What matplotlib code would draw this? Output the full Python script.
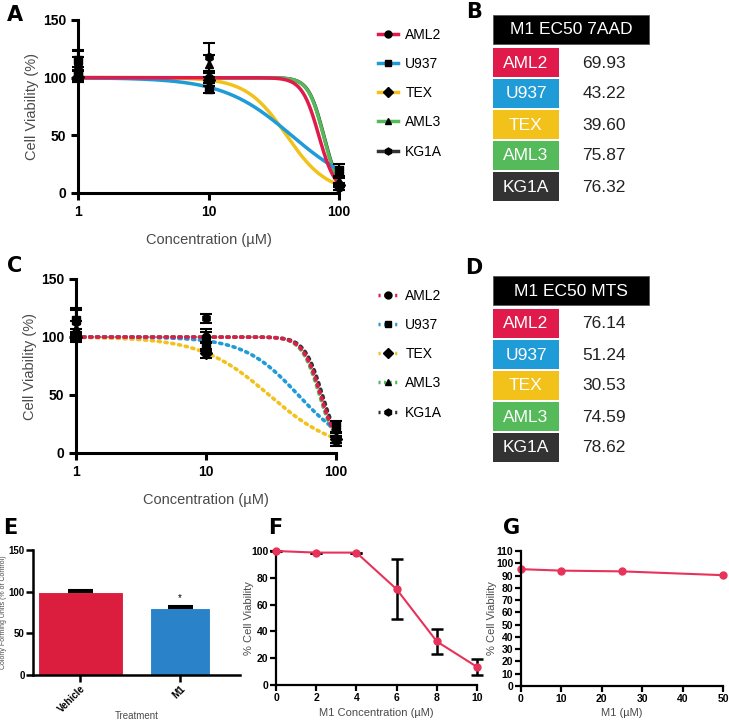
import numpy as np
import matplotlib
matplotlib.use("Agg")
import matplotlib.pyplot as plt
from matplotlib.lines import Line2D
from matplotlib.patches import Rectangle

plt.rcParams['font.family'] = ['Liberation Sans', 'DejaVu Sans']

# Cell lines and colours
lines = ['AML2', 'U937', 'TEX', 'AML3', 'KG1A']
colors = ['#E01B4C', '#1F9BD7', '#F2C21B', '#55BA5A', '#333333']
markers = ['o', 's', 'D', '^', 'h']

conc = [1, 10, 100]

# Panel A (7AAD) measured points
a_mean = {'AML2': [104, 100, 5], 'U937': [115, 90, 20], 'TEX': [101, 98, 7],
          'AML3': [108, 112, 10], 'KG1A': [110, 118, 5]}
a_err = {'AML2': [5, 5, 2], 'U937': [8, 3, 5], 'TEX': [5, 3, 2],
         'AML3': [10, 8, 3], 'KG1A': [14, 12, 2]}
a_ec50 = [69.93, 43.22, 39.60, 75.87, 76.32]
a_hill = [6.8, 1.65, 2.8, 7.5, 7.5]

# Panel C (MTS) measured points
c_mean = {'AML2': [100, 100, 12], 'U937': [115, 92, 23], 'TEX': [100, 86, 12],
          'AML3': [108, 101, 13], 'KG1A': [113, 116, 10]}
c_err = {'AML2': [3, 4, 3], 'U937': [8, 4, 5], 'TEX': [4, 4, 3],
         'AML3': [6, 6, 4], 'KG1A': [12, 4, 4]}
c_ec50 = [76.14, 51.24, 30.53, 74.59, 78.62]
c_hill = [6.3, 2.07, 1.65, 6.3, 6.3]

# Panel E
e_cats = ['Vehicle', 'M1']
e_vals = [100, 81]
e_errs = [2, 2]
e_colors = ['#DC1E3E', '#2A82C8']

# Panel F
f_x = [0, 2, 4, 6, 8, 10]
f_y = [100, 98.8, 98.8, 71.5, 32.5, 13.5]
f_err = [0, 0, 0, 22.5, 9, 6]

# Panel G
g_x = [0, 10, 25, 50]
g_y = [95.2, 94, 93.4, 90.3]

W, H = 729, 723
fig = plt.figure(figsize=(W / 100, H / 100), dpi=100)
GREY = '#4a4a4a'


def box(l, t, r, b):
    return [l / W, 1 - b / H, (r - l) / W, (b - t) / H]


def style(ax, lw=2.2, size=9, pad=3.5, length=5):
    for s in ['top', 'right']:
        ax.spines[s].set_visible(False)
    for s in ['left', 'bottom']:
        ax.spines[s].set_linewidth(lw)
    ax.tick_params(width=lw, length=length, labelsize=size, pad=pad)
    for t in ax.get_xticklabels() + ax.get_yticklabels():
        t.set_fontweight('bold')


def dose_panel(ax, mean, err, ec50, hill, ls):
    xs = np.logspace(0, 2, 400)
    dots = (0, (0.6, 1.3))
    for i in [4, 3, 2, 1, 0]:
        y = 100 / (1 + (xs / ec50[i]) ** hill[i])
        if ls == 'solid':
            ax.plot(xs, y, color=colors[i], lw=2.5, zorder=2)
        else:
            ax.plot(xs, y, color=colors[i], lw=2.6, linestyle=dots,
                    dash_capstyle='round', zorder=2)
    for i, name in enumerate(lines):
        ax.errorbar(conc, mean[name], yerr=err[name], fmt=markers[i], color='black',
                    ms=6, elinewidth=1.5, capsize=4, capthick=1.5, zorder=3)
    ax.set_xscale('log')
    ax.set_xlim(1, 100)
    ax.set_ylim(0, 150)
    ax.set_xticks([1, 10, 100])
    ax.set_xticklabels(['1', '10', '100'])
    ax.minorticks_off()
    ax.set_yticks([0, 50, 100, 150])
    ax.set_xlabel('Concentration (µM)', fontsize=10.5, color=GREY, labelpad=10)
    ax.set_ylabel('Cell Viability (%)', fontsize=10.5, color=GREY, labelpad=3)
    for art in ax.get_children():
        art.set_clip_on(False)
    style(ax, size=10)
    handles = []
    for i in range(len(lines)):
        h = Line2D([], [], color=colors[i], lw=2.5,
                   linestyle='-' if ls == 'solid' else (0, (0.6, 1.0)),
                   marker=markers[i], mfc='black', mec='black', ms=5)
        handles.append(h)
    return handles


# Panel A
axA = fig.add_axes(box(78, 20, 339, 193))
hA = dose_panel(axA, a_mean, a_err, a_ec50, a_hill, 'solid')
fig.legend(hA, lines, loc='upper left', bbox_to_anchor=(365 / W, 1 - 15 / H),
           frameon=False, fontsize=10, handlelength=1.5, labelspacing=1.1,
           handletextpad=0.5)

# Panel C
axC = fig.add_axes(box(76, 279, 336, 453))
hC = dose_panel(axC, c_mean, c_err, c_ec50, c_hill, 'dotted')
fig.legend(hC, lines, loc='upper left', bbox_to_anchor=(365 / W, 1 - 276 / H),
           frameon=False, fontsize=10, handlelength=1.5, labelspacing=1.1,
           handletextpad=0.5)

# Panel E
axE = fig.add_axes(box(33, 550, 240, 675))
xe = np.arange(len(e_cats))
axE.bar(xe, e_vals, width=[0.85, 0.6], color=e_colors, edgecolor='white', lw=0.8,
        zorder=2)
axE.errorbar(xe, e_vals, yerr=[[0, 0], e_errs], fmt='none', ecolor='black',
             elinewidth=1.5, capsize=9, capthick=1.5, zorder=3)
axE.text(xe[1], e_vals[1] + e_errs[1] + 3, '*', ha='center', va='bottom', fontsize=7)
axE.set_xlim(-0.47, 1.6)
axE.set_ylim(0, 150)
axE.set_yticks([0, 50, 100, 150])
axE.set_xticks(xe)
axE.set_xticklabels(e_cats, rotation=45, ha='right', rotation_mode='anchor')
axE.set_xlabel('Treatment', fontsize=7, color=GREY)
axE.xaxis.set_label_coords(0.5, -36 / 125)
axE.set_ylabel('Colony Forming Units (% of Control)', fontsize=5, color=GREY)
axE.yaxis.set_label_coords(-26 / 207, 0.5)
style(axE, lw=1.8, size=7, pad=1)

# Panel F
axF = fig.add_axes(box(276, 551, 477, 685))
axF.errorbar(f_x, f_y, yerr=f_err, color='#E8325A', lw=1.5, marker='o', ms=5,
             ecolor='black', elinewidth=1.8, capsize=4, capthick=1.8, zorder=3)
axF.set_xlim(0, 10)
axF.set_ylim(0, 100)
axF.set_xticks(f_x)
axF.set_yticks([0, 20, 40, 60, 80, 100])
axF.set_xlabel('M1 Concentration (µM)', fontsize=8, color=GREY)
axF.xaxis.set_label_coords(0.5, -23 / 134)
axF.set_ylabel('% Cell Viability', fontsize=8, color=GREY)
axF.yaxis.set_label_coords(-22 / 201, 0.5)
for art in axF.get_children():
    art.set_clip_on(False)
style(axF, lw=1.6, size=7.5, pad=1.5, length=4)

# Panel G
axG = fig.add_axes(box(521, 551, 723, 686))
axG.plot(g_x, g_y, color='#E8325A', lw=1.5, marker='o', ms=5, clip_on=False)
axG.set_xlim(0, 50)
axG.set_ylim(0, 110)
axG.set_xticks([0, 10, 20, 30, 40, 50])
axG.set_yticks(range(0, 111, 10))
axG.set_xlabel('M1 (µM)', fontsize=8, color=GREY)
axG.xaxis.set_label_coords(0.5, -22 / 135)
axG.set_ylabel('% Cell Viability', fontsize=8, color=GREY)
axG.yaxis.set_label_coords(-24 / 202, 0.5)
style(axG, lw=1.6, size=7.5, pad=1.5, length=4)

# Tables B and D
ov = fig.add_axes([0, 0, 1, 1])
ov.set_xlim(0, W)
ov.set_ylim(H, 0)
ov.axis('off')


def table(top, title, vals):
    ov.add_patch(Rectangle((493, top), 156, 29, facecolor='black', edgecolor='#555555',
                           lw=0.6))
    ov.text(571, top + 15, title, color='white', ha='center', va='center', fontsize=12.5)
    y = top + 33
    for i, name in enumerate(lines):
        ov.add_patch(Rectangle((493, y), 66, 29, facecolor=colors[i], edgecolor='none'))
        ov.text(526, y + 15, name, color='white', ha='center', va='center', fontsize=12.5)
        ov.text(604, y + 15, '%.2f' % vals[i], color='#222222', ha='center', va='center',
                fontsize=12.5)
        y += 31


table(15, 'M1 EC50 7AAD', a_ec50)
table(276, 'M1 EC50 MTS', c_ec50)

# Panel letters
for lab, x, y in [('A', 15, 15), ('B', 474, 12), ('C', 15, 266), ('D', 474, 268),
                  ('E', 10, 528), ('F', 275, 528), ('G', 512, 528)]:
    ov.text(x, y, lab, fontsize=15, fontweight='bold', ha='center', va='center',
            family='DejaVu Sans')

fig.savefig('out.png', dpi=100)
